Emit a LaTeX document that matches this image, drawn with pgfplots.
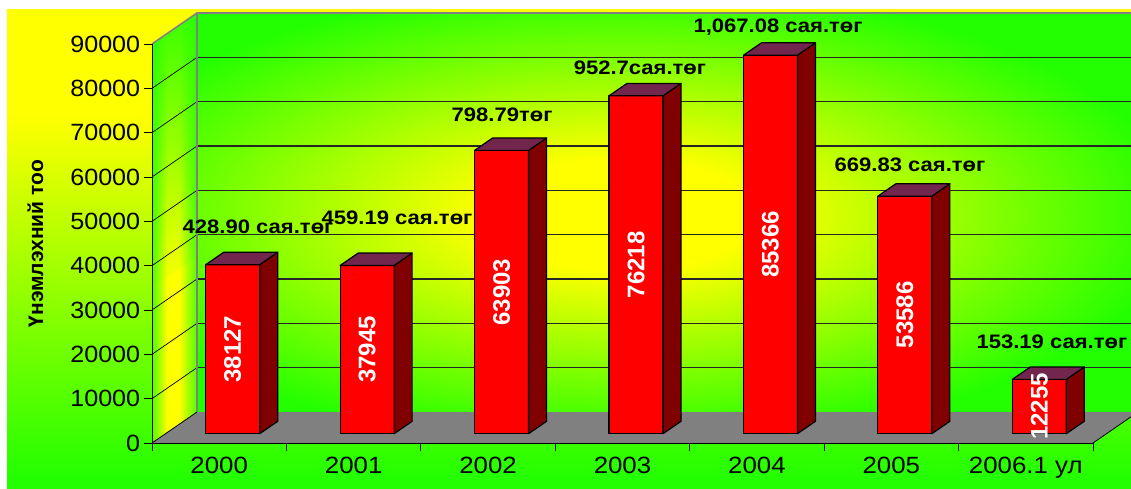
\documentclass[border=0pt]{standalone}
\usepackage{pgfplots}
\pgfplotsset{compat=1.18}
\usepackage{pgfplotstable}
\usetikzlibrary{fadings}
\usepackage{fontspec}
\setmainfont{Liberation Sans}

\definecolor{gbg}{RGB}{35,255,0}
\definecolor{ybg}{RGB}{255,255,0}
\definecolor{sideG}{RGB}{80,255,0}
\definecolor{barfront}{RGB}{255,0,0}
\definecolor{barside}{RGB}{128,0,0}
\definecolor{bartop}{RGB}{115,38,77}
\definecolor{floorgray}{RGB}{128,128,128}

% outer background: yellow at the top, green at the bottom
\pgfdeclareverticalshading{outerbg}{100bp}{color(0bp)=(gbg); color(26bp)=(gbg); color(64bp)=(ybg); color(100bp)=(ybg)}
% glow on the back wall
\pgfdeclareradialshading{wallglow}{\pgfpoint{0bp}{0bp}}{color(0bp)=(ybg); color(6bp)=(ybg); color(25bp)=(gbg); color(50bp)=(gbg)}
% yellow stripe on the side wall
\pgfdeclarehorizontalshading{sidewall}{100bp}{color(0bp)=(sideG); color(25bp)=(sideG); color(42bp)=(ybg); color(55bp)=(ybg); color(75bp)=(sideG); color(100bp)=(sideG)}

\pgfplotstableread{
x   v
0.5 38127
1.5 37945
2.5 63903
3.5 76218
4.5 85366
5.5 53586
6.5 12255
}\bars

\begin{document}
\begin{tikzpicture}
\useasboundingbox (0,0) rectangle (1131pt,488pt);
\clip (0,0) rectangle (1131pt,488pt);
\fill[white] (0,0) rectangle (1131pt,488pt);
\shade[shading=outerbg] (7pt,0pt) rectangle (1131pt,478pt);

% back wall
\begin{scope}
  \clip (197pt,76pt) rectangle (1145pt,475pt);
  \fill[gbg] (197pt,76pt) rectangle (1145pt,475pt);
  \shade[shading=wallglow] (620pt,273pt) ellipse [x radius=560pt, y radius=230pt];
\end{scope}
% side wall
\shade[shading=sidewall]
  (152pt,45pt) -- (197pt,76pt) -- (197pt,475pt) -- (152pt,444pt) -- cycle;
\fill[gbg, path fading=south, fill opacity=0.9]
  (152pt,200pt) -- (197pt,231pt) -- (197pt,475pt) -- (152pt,444pt) -- cycle;
% floor
\fill[floorgray] (152pt,45pt) -- (1093pt,45pt) -- (1138pt,76pt) -- (197pt,76pt) -- cycle;
\draw[black, line width=0.8pt] (152pt,45pt) -- (197pt,76pt);
\draw[black, line width=0.8pt] (1093pt,45pt) -- (1138pt,76pt);

% grid on the walls
\foreach \k in {1,...,8} {
  \pgfmathsetmacro\yf{45+44.333*\k}
  \pgfmathsetmacro\yb{\yf+31}
  \draw[black, line width=0.7pt] (152pt,\yf pt) -- (197pt,\yb pt);
  \draw[black!85, line width=1.1pt] (197pt,\yb pt) -- (1145pt,\yb pt);
}
\draw[black!50, line width=1.6pt] (152pt,444pt) -- (197pt,475pt) -- (1145pt,475pt);
\draw[black!50, line width=1.6pt] (197pt,76pt) -- (197pt,475pt);

\begin{axis}[
  at={(152pt,45pt)}, anchor=south west,
  scale only axis, width=941pt, height=399pt,
  xmin=0, xmax=7, ymin=0, ymax=90000,
  clip=false,
  axis x line*=bottom, axis y line*=left,
  axis line style={black, line width=0.9pt},
  tick align=outside, major tick length=8pt,
  tick style={black, line width=0.9pt},
  xtick={0,...,7}, xticklabels={},
  extra x ticks={0.5,1.5,2.5,3.5,4.5,5.5,6.5},
  extra x tick labels={2000,2001,2002,2003,2004,2005,2006.1 ул},
  extra x tick style={major tick length=0pt, xticklabel style={yshift=-11pt}},
  ytick={0,10000,...,90000},
  scaled y ticks=false,
  /pgf/number format/1000 sep={},
  /pgf/number format/assume math mode=true,
  tick label style={font=\fontsize{23.5}{24}\selectfont},
  yticklabel style={xscale=1.07},
  xticklabel style={xscale=1.1},
  ylabel={Үнэмлэхний тоо},
  ylabel style={font=\bfseries\fontsize{21}{21}\selectfont,
    at={(axis description cs:-0.124,0.5)}, anchor=center},
]
% front faces
\addplot[ybar, bar width=54pt, bar shift=13.5pt, fill=barfront, draw=black,
  line width=1.2pt, yshift=9.3pt] table[x=x, y=v] {\bars};
% top and side faces, value inside the bar
\addplot[scatter, only marks, mark=*, mark size=0.01pt,
  visualization depends on={y \as \rv},
  scatter/@pre marker code/.code={
    \begingroup
      \pgfkeys{/pgf/fpu=true,/pgf/fpu/output format=fixed}
      \pgfmathsetmacro\hh{\rv*399/90000}
      \global\let\ghh\hh
    \endgroup
    \pgfmathsetmacro\hb{9.3-\ghh}
    \pgfmathsetmacro\hs{21.7-\ghh}
    \pgfmathsetmacro\hm{9.3-\ghh/2}
    \filldraw[fill=barside, draw=black, line width=1.2pt, line join=round]
      (40.5pt,9.3pt) -- (58.5pt,21.7pt) -- (58.5pt,\hs pt) -- (40.5pt,\hb pt) -- cycle;
    \filldraw[fill=bartop, draw=black, line width=1.2pt, line join=round]
      (-13.5pt,9.3pt) -- (40.5pt,9.3pt) -- (58.5pt,21.7pt) -- (4.5pt,21.7pt) -- cycle;
    \node[rotate=90, text=white, inner sep=0pt,
      font=\bfseries\fontsize{24}{24}\selectfont] at (13.5pt,\hm pt)
      {\pgfmathprintnumber[fixed, precision=0, 1000 sep={}, assume math mode=true]{\rv}};
  },
  scatter/@post marker code/.code={},
] table[x=x, y=v] {\bars};

\begin{scope}[font=\bfseries\fontsize{19.5}{20}\selectfont]
\node[xscale=1.13] at (axis cs:0.789,48722) {428.90 сая.төг};
\node[xscale=1.13] at (axis cs:1.823,50752) {459.19 сая.төг};
\node[xscale=1.13] at (axis cs:2.604,73985) {798.79төг};
\node[xscale=1.13] at (axis cs:3.630,84586) {952.7сая.төг};
\node[xscale=1.13] at (axis cs:4.657,93833) {1,067.08 сая.төг};
\node[xscale=1.13] at (axis cs:5.639,62706) {669.83 сая.төг};
\node[xscale=1.13, anchor=east, inner sep=1pt] at (axis cs:7.265,22782) {153.19 сая.төг};
\end{scope}
\end{axis}
\end{tikzpicture}
\end{document}
